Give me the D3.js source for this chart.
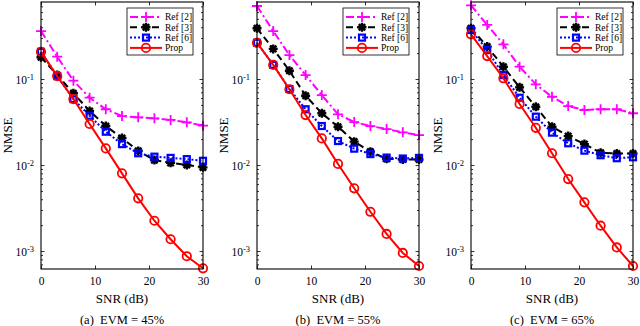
<!DOCTYPE html>
<html><head><meta charset="utf-8">
<script src="https://cdn.jsdelivr.net/npm/d3@7"></script>
<style>body{margin:0;background:#fff}svg{display:block}text{font-family:"Liberation Serif","Times New Roman",serif;fill:#000}</style>
</head><body><svg id="c" width="640" height="326"></svg>
<script>
const snr = [0,3,6,9,12,15,18,21,24,27,30];
const seriesNames = ["Ref [2]","Ref [3]","Ref [6]","Prop"];
const panelCaptions = ["(a)\u00a0 EVM = 45%","(b)\u00a0 EVM = 55%","(c)\u00a0 EVM = 65%"];
const xTicks = [0,10,20,30];
const yMajor = [1e-3,1e-2,1e-1];
const yTickLabels = [["10","-3"],["10","-2"],["10","-1"]];

const ref2A = [0.361,0.182,0.0956,0.0606,0.0445,0.0371,0.0359,0.0349,0.0334,0.0314,0.0287];
const ref3A = [0.179,0.111,0.0682,0.0425,0.0284,0.0206,0.0146,0.0114,0.0106,0.0100,0.0094];
const ref6A = [0.207,0.108,0.0585,0.0374,0.0244,0.0175,0.0137,0.0125,0.0121,0.0117,0.0112];
const propA = [0.207,0.108,0.0585,0.030,0.0156,0.0080,0.0041,0.00225,0.00137,0.00087,0.00063];

const ref2B = [0.706,0.361,0.190,0.111,0.065,0.0389,0.0316,0.0284,0.0262,0.0240,0.0223];
const ref3B = [0.389,0.224,0.125,0.064,0.040,0.0279,0.0187,0.0143,0.0118,0.0116,0.0116];
const ref6B = [0.264,0.146,0.0765,0.0445,0.0284,0.019,0.0155,0.0134,0.0122,0.0119,0.0121];
const propB = [0.264,0.146,0.076,0.0381,0.0204,0.0103,0.00536,0.00286,0.00158,0.00095,0.00067];

const ref2C = [0.72,0.425,0.253,0.139,0.0867,0.0622,0.0485,0.0436,0.0445,0.0445,0.040];
const ref3C = [0.389,0.238,0.139,0.080,0.0476,0.0279,0.0217,0.0175,0.0139,0.0136,0.0136];
const ref6C = [0.371,0.217,0.111,0.0606,0.0365,0.0238,0.0179,0.0147,0.0130,0.0120,0.0123];
const propC = [0.331,0.185,0.102,0.0512,0.0271,0.0137,0.00687,0.00368,0.00197,0.0011,0.00067];

const panels = [
  {caption: panelCaptions[0], data:[ref2A,ref3A,ref6A,propA], left:41},
  {caption: panelCaptions[1], data:[ref2B,ref3B,ref6B,propB], left:257},
  {caption: panelCaptions[2], data:[ref2C,ref3C,ref6C,propC], left:471}
];
const styles = [
  {color:"#ff00ff", dash:"8,3,2,3", marker:"plus", w:2},
  {color:"#000000", dash:"7,4", marker:"star", w:2},
  {color:"#0000ff", dash:"2,2", marker:"square", w:2},
  {color:"#ff0000", dash:null, marker:"circle", w:2}
];
const W = 162, plotTop = 2, plotBottom = 269;
const svg = d3.select("#c");

function drawMarker(g, type, color){
  if(type==="plus"){
    g.append("path").attr("d","M-5,0H5M0,-5V5").attr("stroke",color).attr("stroke-width",1.8).attr("fill","none");
  } else if(type==="star"){
    g.append("path").attr("d","M-4.5,0H4.5M0,-4.5V4.5M-3.2,-3.2L3.2,3.2M-3.2,3.2L3.2,-3.2").attr("stroke",color).attr("stroke-width",2.4).attr("fill","none");
    g.append("circle").attr("r",2.6).attr("fill",color);
  } else if(type==="square"){
    g.append("rect").attr("x",-3).attr("y",-3).attr("width",6).attr("height",6).attr("stroke",color).attr("stroke-width",2.2).attr("fill","none");
  } else {
    g.append("circle").attr("r",4.2).attr("stroke",color).attr("stroke-width",1.8).attr("fill","none");
  }
}

panels.forEach(p=>{
  const x = d3.scaleLinear().domain([0,30]).range([p.left,p.left+W]);
  const y = d3.scaleLog().domain([6.18e-4,0.786]).range([plotBottom,plotTop]);
  const g = svg.append("g");
  const minors = y.ticks().filter(v=>!yMajor.some(m=>Math.abs(m-v)/m<1e-6));

  const ax = g.append("g").attr("transform",`translate(0,${plotBottom})`)
    .call(d3.axisBottom(x).tickValues(xTicks).tickSize(-3.5).tickPadding(8).tickSizeOuter(0));
  ax.select(".domain").remove();
  ax.selectAll("text").attr("font-size",11.5);
  g.append("g").attr("transform",`translate(0,${plotTop})`)
    .call(d3.axisTop(x).tickValues(xTicks).tickSize(-3.5).tickFormat("").tickSizeOuter(0))
    .select(".domain").remove();

  const ay = g.append("g").attr("transform",`translate(${p.left},0)`)
    .call(d3.axisLeft(y).tickValues(yMajor).tickSize(-3.5).tickPadding(7).tickSizeOuter(0));
  ay.select(".domain").remove();
  ay.selectAll(".tick text").each(function(d,i){
    const t = d3.select(this).text("").attr("font-size",11.5).attr("dy","0.4em");
    t.append("tspan").text(yTickLabels[i][0]);
    t.append("tspan").attr("dy","-0.45em").attr("font-size",8.5).text(yTickLabels[i][1]);
  });
  g.append("g").attr("transform",`translate(${p.left},0)`)
    .call(d3.axisLeft(y).tickValues(minors).tickSize(-2).tickFormat("").tickSizeOuter(0))
    .select(".domain").remove();
  g.append("g").attr("transform",`translate(${p.left+W},0)`)
    .call(d3.axisRight(y).tickValues(yMajor).tickSize(-3.5).tickFormat("").tickSizeOuter(0))
    .select(".domain").remove();
  g.append("g").attr("transform",`translate(${p.left+W},0)`)
    .call(d3.axisRight(y).tickValues(minors).tickSize(-2).tickFormat("").tickSizeOuter(0))
    .select(".domain").remove();
  g.selectAll(".tick line").attr("stroke","#000").attr("stroke-width",0.8);

  p.data.forEach((vals,si)=>{
    const s = styles[si];
    const line = d3.line().x((d,i)=>x(snr[i])).y(d=>y(d));
    g.append("path").datum(vals).attr("d",line).attr("fill","none")
      .attr("stroke",s.color).attr("stroke-width",s.w)
      .attr("stroke-dasharray",s.dash);
    vals.forEach((v,i)=>{
      const m = g.append("g").attr("transform",`translate(${x(snr[i])},${y(v)})`);
      drawMarker(m,s.marker,s.color);
    });
  });

  g.append("rect").attr("x",p.left).attr("y",plotTop).attr("width",W).attr("height",plotBottom-plotTop)
    .attr("fill","none").attr("stroke","#000").attr("stroke-width",1.1);

  const lx = p.left+W-76, ly = 8, lw = 66, lh = 47;
  const lg = g.append("g");
  lg.append("rect").attr("x",lx).attr("y",ly).attr("width",lw).attr("height",lh)
    .attr("fill","#fff").attr("stroke","#000").attr("stroke-width",0.8);
  seriesNames.forEach((n,si)=>{
    const s = styles[si];
    const yy = ly+9+si*10.3;
    lg.append("line").attr("x1",lx+3).attr("x2",lx+35).attr("y1",yy).attr("y2",yy)
      .attr("stroke",s.color).attr("stroke-width",s.w).attr("stroke-dasharray",s.dash);
    drawMarker(lg.append("g").attr("transform",`translate(${lx+19},${yy})`),s.marker,s.color);
    lg.append("text").attr("x",lx+38).attr("y",yy+3.3).attr("font-size",9.5).text(n);
  });

  const cx = p.left+W/2;
  g.append("text").attr("x",cx).attr("y",303).attr("text-anchor","middle").attr("font-size",13).text("SNR (dB)");
  g.append("text").attr("x",cx).attr("y",324).attr("text-anchor","middle").attr("font-size",12.5).text(p.caption);
  g.append("text").attr("transform",`translate(${p.left-29},${(plotTop+plotBottom)/2}) rotate(-90)`)
    .attr("text-anchor","middle").attr("font-size",13).text("NMSE");
});
</script></body></html>
